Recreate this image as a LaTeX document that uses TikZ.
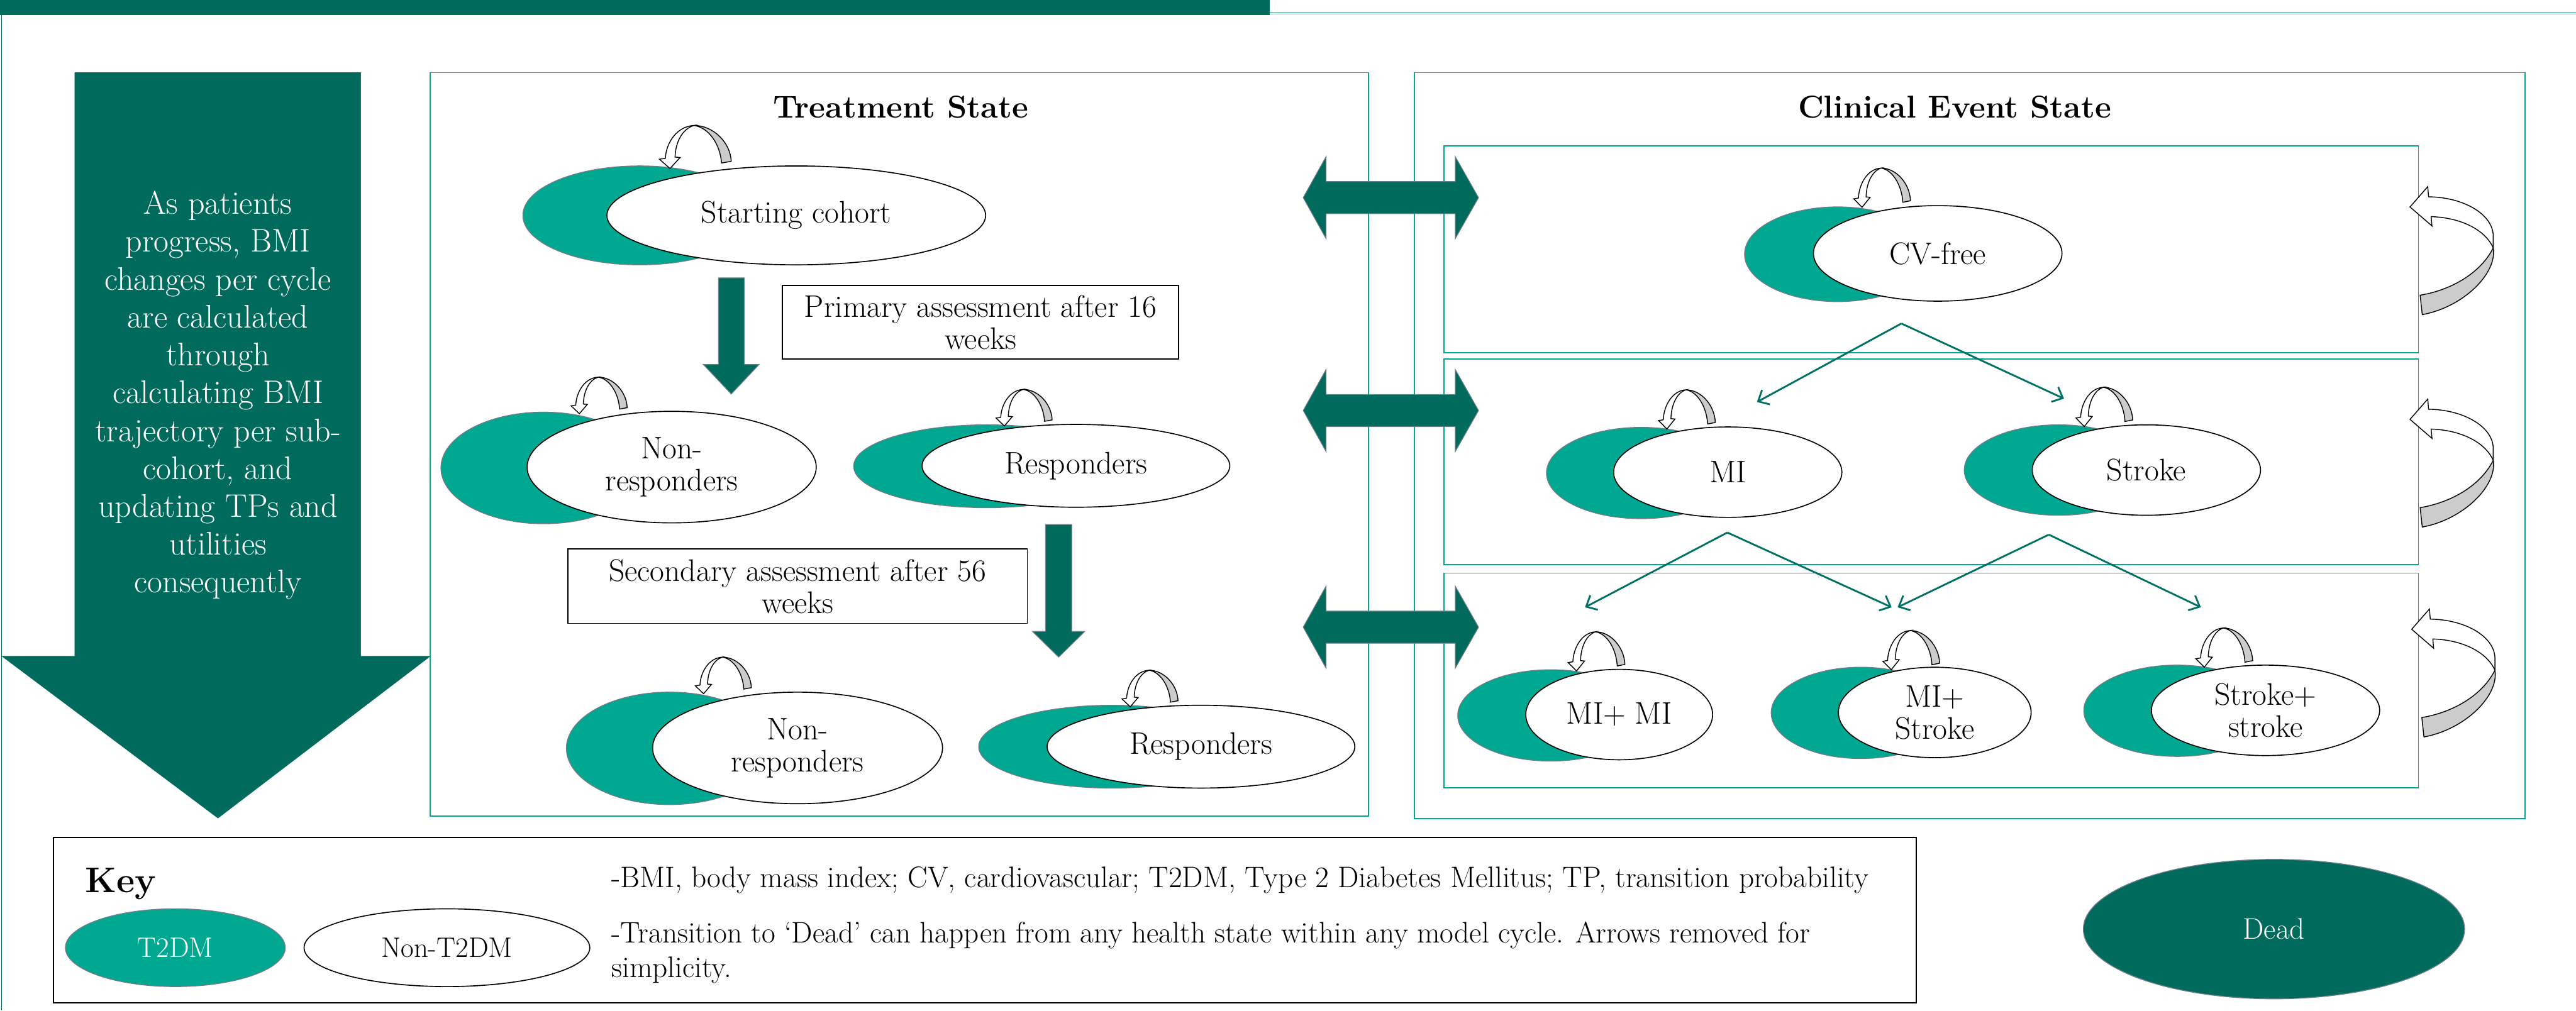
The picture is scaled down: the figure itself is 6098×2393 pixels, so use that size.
\documentclass[tikz,border=0pt]{standalone}
\usetikzlibrary{shapes.geometric,arrows.meta}
\definecolor{darkg}{RGB}{0,107,92}
\definecolor{tealc}{RGB}{0,168,145}
\definecolor{slateg}{RGB}{110,125,135}
\definecolor{bandg}{RGB}{204,204,204}
\definecolor{lineg}{RGB}{0,112,98}
\newcommand{\fsmain}{\fontsize{21}{21.6}\selectfont}
\newcommand{\fsleft}{\fontsize{22}{25.5}\selectfont}
\newcommand{\fstitle}{\fontsize{21.3}{24}\selectfont\bfseries}
\newcommand{\fskeyt}{\fontsize{24}{28}\selectfont\bfseries}
\newcommand{\fsnote}{\fontsize{20}{23.6}\selectfont}
\newcommand{\fssmall}{\fontsize{19}{21}\selectfont}
\newcommand{\fsdead}{\fontsize{20}{22}\selectfont}
\tikzset{tealell/.style={ellipse, fill=tealc, draw=slateg, line width=0.6pt, inner sep=0pt}}
\tikzset{whiteell/.style={ellipse, fill=white, draw=black, line width=0.7pt, inner sep=0pt, align=center, font=\fsmain}}
\tikzset{ewid/.style={minimum width=#1}}
\tikzset{ehgt/.style={minimum height=#1}}
\tikzset{stbox/.style={draw=tealc, line width=0.8pt}}
\tikzset{blockar/.style={fill=darkg, draw=slateg, line width=0.5pt}}
\tikzset{assess/.style={draw=black, line width=0.8pt, fill=white, align=center, font=\fsmain, inner sep=0pt}}
\tikzset{conn/.style={draw=lineg, line width=1.2pt, -{Straight Barb[length=6pt,width=11pt]}}}
\tikzset{sloop/.pic={
    \filldraw[fill=bandg, draw=black, line width=0.6pt] (0,0) .. controls (45,0) and (86,40) .. (88,85) -- (65,89) .. controls (62,45) and (35,5) .. cycle;
    \filldraw[fill=white, draw=black, line width=0.6pt] (0,0) .. controls (-40,2) and (-66,40) .. (-68,78) -- (-82,80) -- (-57,102) -- (-33,76) -- (-45,75) .. controls (-44,40) and (-28,8) .. cycle;
  }}
\tikzset{bloop/.pic={
    \filldraw[fill=bandg, draw=black, line width=0.6pt] (0,0) .. controls (10,60) and (-70,140) .. (-168,158) -- (-173,112) .. controls (-100,100) and (-30,60) .. cycle;
    \filldraw[fill=white, draw=black, line width=0.6pt] (0,0) -- (0,-30) .. controls (-2,-80) and (-70,-120) .. (-153,-121) -- (-155,-145) -- (-197,-97) -- (-145,-52) -- (-147,-74) .. controls (-80,-72) and (-20,-45) .. cycle;
  }}
\begin{document}
\begin{tikzpicture}[x=0.01cm, y=-0.01cm]
\useasboundingbox (0,0) rectangle (6098,2393);
% frame
\fill[darkg] (0,0) rectangle (3006,35);
\draw[darkg, line width=0.5pt] (3006,31) -- (6098,31);
\draw[gray!45, line width=0.5pt] (3006,33.5) -- (6098,33.5);
\draw[darkg, line width=0.6pt] (4,35) -- (4,2393);

% left big arrow
\filldraw[fill=darkg, draw=darkg, line width=0.3pt] (177,172) -- (854,172) -- (854,1554) -- (1018,1554) -- (516,1937) -- (5,1554) -- (177,1554) -- cycle;
\node[text=white, align=center, font=\fsleft, inner sep=0pt] (bmitext) at (516,936) {As patients\\progress, BMI\\changes per cycle\\are calculated\\through\\calculating BMI\\trajectory per sub-\\cohort, and\\updating TPs and\\utilities\\consequently};

% boxes
\draw[stbox] (1018,172) rectangle (3240,1933);
\draw[stbox] (3348,172) rectangle (5978,1938);
\draw[stbox] (3418,345) rectangle (5725,835);
\draw[stbox] (3418,850) rectangle (5725,1337);
\draw[stbox] (3418,1357) rectangle (5725,1865);

\node[font=\fstitle, anchor=base] (ttitle) at (2132,279) {Treatment State};
\node[font=\fstitle, anchor=base] (ctitle) at (4627,279) {Clinical Event State};

% double arrows
\foreach \c in {468, 972, 1485}{
  \filldraw[blockar] (3085,\c) -- (3139,\c-97) -- (3139,\c-38) -- (3445,\c-38) -- (3445,\c-97) -- (3500,\c) -- (3445,\c+97) -- (3445,\c+38) -- (3139,\c+38) -- (3139,\c+97) -- cycle;
}

% treatment state
\node[tealell, ewid=5.52cm, ehgt=2.34cm] (sc-t) at (1514,510) {};
\node[whiteell, ewid=8.96cm, ehgt=2.34cm] (sc) at (1885,510) {Starting cohort};
\pic at (1643,297) {sloop};

\filldraw[blockar] (1701,658) -- (1762,658) -- (1762,863) -- (1797,863) -- (1731,933) -- (1665,863) -- (1701,863) -- cycle;
\node[assess, minimum width=9.38cm, minimum height=1.75cm] (prim) at (2321,763) {Primary assessment after 16\\weeks};

\node[tealell, ewid=4.86cm, ehgt=2.64cm] (nr1-t) at (1287,1108) {};
\node[whiteell, ewid=6.84cm, ehgt=2.64cm] (nr1) at (1590,1106) {Non-\\responders};
\pic[xscale=0.78, yscale=0.85] at (1416,893) {sloop};

\node[tealell, ewid=6.3cm, ehgt=1.96cm] (r1-t) at (2336,1104) {};
\node[whiteell, ewid=7.28cm, ehgt=1.96cm] (r1) at (2547,1103) {Responders};
\pic[xscale=0.78, yscale=0.85] at (2422,922) {sloop};

\filldraw[blockar] (2475,1242) -- (2537,1242) -- (2537,1495) -- (2568,1495) -- (2506,1556) -- (2444,1495) -- (2475,1495) -- cycle;
\node[assess, minimum width=10.87cm, minimum height=1.76cm] (sec) at (1888,1388) {Secondary assessment after 56\\weeks};

\node[tealell, ewid=4.88cm, ehgt=2.66cm] (nr2-t) at (1585,1772) {};
\node[whiteell, ewid=6.86cm, ehgt=2.64cm] (nr2) at (1888,1771) {Non-\\responders};
\pic[xscale=0.78, yscale=0.85] at (1710,1556) {sloop};

\node[tealell, ewid=6.32cm, ehgt=1.96cm] (r2-t) at (2633,1768) {};
\node[whiteell, ewid=7.28cm, ehgt=1.96cm] (r2) at (2843,1768) {Responders};
\pic[xscale=0.78, yscale=0.85] at (2720,1587) {sloop};

% clinical event state
\node[tealell, ewid=4.4cm, ehgt=2.24cm] (cv-t) at (4350,602) {};
\node[whiteell, ewid=5.88cm, ehgt=2.26cm] (cv) at (4587,600) {CV-free};
\pic[xscale=0.79, yscale=0.91] at (4453,398) {sloop};

\node[tealell, ewid=4.48cm, ehgt=2.16cm] (mi-t) at (3885,1120) {};
\node[whiteell, ewid=5.4cm, ehgt=2.14cm] (mi) at (4090,1118) {MI};
\pic[xscale=0.79, yscale=0.91] at (3991,923) {sloop};

\node[tealell, ewid=4.46cm, ehgt=2.14cm] (st-t) at (4873,1113) {};
\node[whiteell, ewid=5.4cm, ehgt=2.14cm] (st) at (5081,1113) {Stroke};
\pic[xscale=0.79, yscale=0.91] at (4979,917) {sloop};

\node[tealell, ewid=4.4cm, ehgt=2.16cm] (mm-t) at (3671,1694) {};
\node[whiteell, ewid=4.42cm, ehgt=2.14cm] (mm) at (3833,1692) {MI+ MI};
\pic[xscale=0.79, yscale=0.91] at (3777,1496) {sloop};

\node[tealell, ewid=4.24cm, ehgt=2.16cm] (ms-t) at (4405,1688) {};
\node[whiteell, ewid=4.56cm, ehgt=2.14cm] (ms) at (4580,1687) {MI+\\Stroke};
\pic[xscale=0.79, yscale=0.91] at (4522,1493) {sloop};

\node[tealell, ewid=4.42cm, ehgt=2.16cm] (ss-t) at (5154,1683) {};
\node[whiteell, ewid=5.4cm, ehgt=2.14cm] (ss) at (5363,1682) {Stroke+\\stroke};
\pic[xscale=0.79, yscale=0.91] at (5263,1487) {sloop};

% transitions
\coordinate (cv-out) at (4501,766);
\coordinate (mi-in) at (4159,952);
\coordinate (st-in) at (4886,944);
\coordinate (mi-out) at (4089,1261);
\coordinate (st-out) at (4850,1266);
\coordinate (mm-in) at (3752,1438);
\coordinate (ms-in1) at (4478,1438);
\coordinate (ms-in2) at (4492,1438);
\coordinate (ss-in) at (5210,1438);
\draw[conn] (cv-out) -- (mi-in);
\draw[conn] (cv-out) -- (st-in);
\draw[conn] (mi-out) -- (mm-in);
\draw[conn] (mi-out) -- (ms-in1);
\draw[conn] (st-out) -- (ms-in2);
\draw[conn] (st-out) -- (ss-in);

% big right loops
\pic at (5902,587) {bloop};
\pic at (5902,1090) {bloop};
\pic at (5906,1587) {bloop};

% key
\draw[black, line width=0.9pt] (126,1983) rectangle (4536,2374);
\node[font=\fskeyt, anchor=base west, inner sep=0pt] (keyt) at (201,2113) {Key};
\node[ellipse, fill=tealc, draw=slateg, line width=0.6pt, ewid=5.2cm, ehgt=1.84cm, text=white, font=\fssmall] (k1) at (415,2244) {T2DM};
\node[ellipse, fill=white, draw=black, line width=0.7pt, ewid=6.76cm, ehgt=1.84cm, font=\fssmall] (k2) at (1058,2244) {Non-T2DM};
\node[font=\fsnote, anchor=base west, inner sep=0pt] (n1) at (1447,2102) {-BMI, body mass index; CV, cardiovascular; T2DM, Type 2 Diabetes Mellitus; TP, transition probability};
\node[font=\fsnote, anchor=base west, inner sep=0pt] (n2) at (1447,2232) {-Transition to ‘Dead’ can happen from any health state within any model cycle. Arrows removed for};
\node[font=\fsnote, anchor=base west, inner sep=0pt] (n3) at (1447,2315) {simplicity.};

\node[ellipse, fill=darkg, draw=slateg, line width=0.6pt, ewid=9.02cm, ehgt=3.3cm, text=white, font=\fsdead] (dead) at (5383,2200) {Dead};
\end{tikzpicture}
\end{document}
